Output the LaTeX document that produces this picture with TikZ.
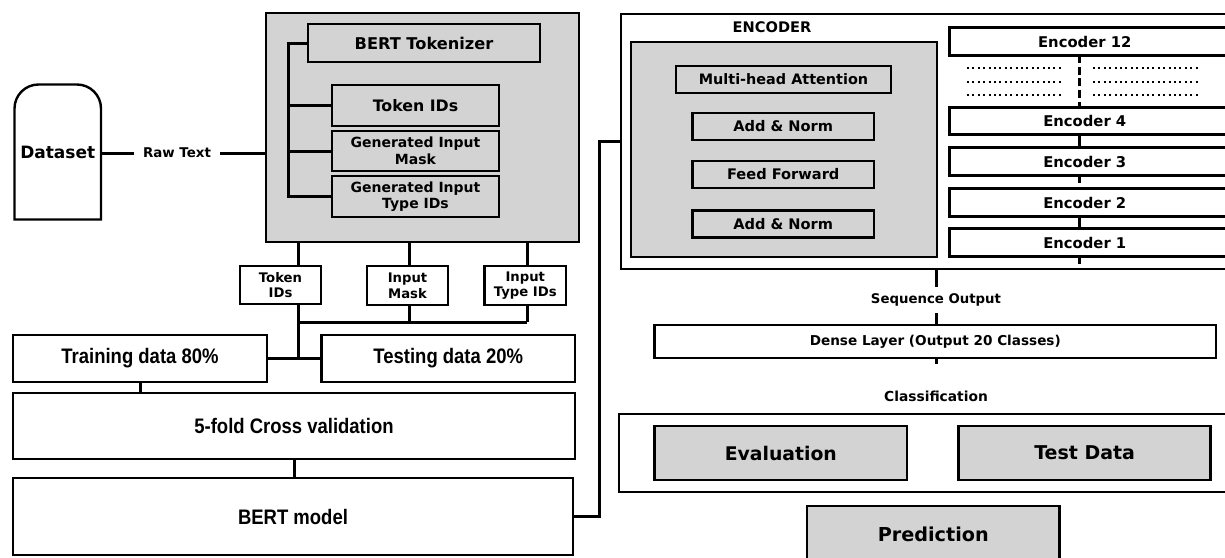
\documentclass[tikz,border=0pt]{standalone}
\usepackage{fontspec}
\setmainfont{DejaVu Sans}
\newfontfamily\narrowfont[FakeStretch=0.88]{Liberation Sans}
\usepackage{tikz}
\usetikzlibrary{positioning,calc}
\definecolor{panel}{RGB}{211,211,211}
\newcommand{\fsz}[2]{\fontsize{#1pt}{#2pt}\selectfont\bfseries}

\begin{document}
\begin{tikzpicture}[x=0.5pt,y=-0.5pt]
\tikzset{
  box/.style={draw,line width=1.3pt,inner sep=0pt,outer sep=0pt,align=center,fill=white},
  gbox/.style={box,fill=panel},
  wire/.style={line width=1.5pt},
  narrow/.style={font={\narrowfont\fsz{10.5}{12}}},
  dotrow/.style={line width=1pt,dash pattern=on 1pt off 1.7pt},
  brk/.style={wire,dash pattern=on 4pt off 1.8pt}
}
\useasboundingbox (0,0) rectangle (1225,557);

% input side
\node[minimum width=43.25pt,minimum height=67.5pt,inner sep=0pt,outer sep=0pt,font=\fsz{8.5}{10}] (dataset) at (57.75,152) {Dataset};
\draw[line width=1.2pt] (dataset.south west) -- ([yshift=-12pt]dataset.north west)
  arc[start angle=180,end angle=90,radius=12pt] -- ([xshift=-12pt]dataset.north east)
  arc[start angle=90,end angle=0,radius=12pt] -- (dataset.south east) -- cycle;

\node[gbox,minimum width=156.5pt,minimum height=114.5pt] (tokbox) at (422.5,127.5) {};
\node[gbox,minimum width=116pt,minimum height=19pt,font=\fsz{8.1}{9.5}] (tokenizer) at (424,43) {BERT Tokenizer};
\node[gbox,minimum width=83.5pt,minimum height=20.5pt,font=\fsz{7.9}{9.5}] (tokid) at (415.5,105.5) {Token IDs};
\node[gbox,minimum width=83.5pt,minimum height=20pt,font=\fsz{7}{8.3}] (mask) at (415.5,151) {Generated Input\\Mask};
\node[gbox,minimum width=83.5pt,minimum height=20.5pt,font=\fsz{7}{8.3}] (typeid) at (415.5,196.5) {Generated Input\\Type IDs};
\node[font=\fsz{6.7}{8},inner xsep=4.5pt,inner ysep=0pt] (raw) at (177,153) {Raw Text};

\node[box,minimum width=40.5pt,minimum height=19pt,font=\fsz{6.6}{7.8}] (stok) at (280.5,285) {Token\\IDs};
\node[box,minimum width=40.5pt,minimum height=19.5pt,font=\fsz{6.6}{7.8}] (smask) at (407.5,285.5) {Input\\Mask};
\node[box,minimum width=40.75pt,minimum height=19.5pt,font=\fsz{6.6}{7.8}] (stype) at (525.25,285.5) {Input\\Type IDs};

\node[box,narrow,minimum width=127pt,minimum height=23.5pt] (train) at (140,358.5) {Training data 80\%};
\node[box,narrow,minimum width=126.75pt,minimum height=23.5pt] (test) at (448.25,358.5) {Testing data 20\%};
\node[box,narrow,minimum width=281pt,minimum height=33pt] (cv) at (294,426) {5-fold Cross validation};
\node[box,narrow,minimum width=280pt,minimum height=38.5pt] (bert) at (293,516.5) {BERT model};

\coordinate (spine) at (288,0);
\coordinate (j1) at (298.5,322);
\coordinate (j2) at (409,322);
\coordinate (j3) at (527,322);
\coordinate (bend) at (599,0);

\draw[wire] (dataset.east |- raw) -- (raw.west);
\draw[wire] (raw.east) -- (raw -| tokbox.west);
\draw[wire] (tokenizer.west) -| (spine |- typeid.west) -- (typeid.west);
\draw[wire] (tokid.west) -- (tokid.west -| spine) (mask.west) -- (mask.west -| spine);
\foreach \b/\j in {stok/j1,smask/j2,stype/j3}
  \draw[wire] (tokbox.south -| \j) -- (\b.north -| \j) (\b.south -| \j) -- (\j);
\draw[wire] (j1) -- (j3);
\draw[wire] (j1) -- (j1 |- train.east);
\draw[wire] (train.east) -- (test.west);
\draw[wire] (train.south) -- (train.south |- cv.north);
\draw[wire] (cv.south) -- (cv.south |- bert.north);

% encoder side
\node[box,minimum width=309.5pt,minimum height=127.5pt] (enc) at (930.5,141.5) {};
\node[font=\fsz{7.3}{9}] (enctitle) at (772,27) {ENCODER};
\node[gbox,minimum width=153pt,minimum height=107.5pt] (layer) at (784,149.5) {};
\node[gbox,minimum width=107.5pt,minimum height=13.5pt,font=\fsz{7.2}{9}] (mha) at (783.5,79.5) {Multi-head Attention};
\node[gbox,minimum width=90.75pt,minimum height=13.5pt,font=\fsz{7.3}{9}] (addnorm1) at (783.25,126.5) {Add \& Norm};
\node[gbox,minimum width=90.75pt,minimum height=13.5pt,font=\fsz{7.3}{9}] (ffwd) at (783.25,174.5) {Feed Forward};
\node[gbox,minimum width=90.75pt,minimum height=13.5pt,font=\fsz{7.3}{9}] (addnorm2) at (783.25,224) {Add \& Norm};

\foreach \n/\y in {12/41.5,4/121,3/161.5,2/202.5,1/242.5}
  \node[box,minimum width=145.25pt,minimum height=13.75pt,font=\fsz{7.4}{9}] (enc\n) at (1094.75,\y) {Encoder \n\hspace*{10pt}};
\foreach \r in {68,82,95} {
  \draw[dotrow] (967,\r) -- (1064,\r);
  \draw[dotrow] (1093,\r) -- (1200,\r);
}
\coordinate (ex) at (1079.5,0);
\draw[brk] (enc12.south -| ex) -- (enc4.north -| ex);
\draw[wire] (enc4.south -| ex) -- (enc3.north -| ex);
\draw[brk] (enc3.south -| ex) -- (enc2.north -| ex);
\draw[wire] (enc2.south -| ex) -- (enc1.north -| ex);
\draw[brk] (enc1.south -| ex) -- (enc.south -| ex);

\draw[wire] (bert.east) -| (bend |- enc.west) -- (enc.west);

\node[font=\fsz{6.65}{8},minimum height=13pt,inner sep=0pt] (seq) at (936,300) {Sequence Output};
\node[box,minimum width=280.7pt,minimum height=16.5pt,font=\fsz{6.8}{8}] (dense) at (935.3,341.5) {Dense Layer (Output 20 Classes)};
\node[font=\fsz{6.9}{8},minimum height=32pt,inner sep=0pt] (cls) at (936,396) {Classification};
\draw[wire] (seq.north |- enc.south) -- (seq.north);
\draw[wire] (seq.south) -- (seq.south |- dense.north);
\draw[wire] (dense.south -| cls) -- (cls.north);

\node[box,minimum width=310.5pt,minimum height=39pt] (results) at (929.5,453) {};
\node[gbox,minimum width=126.2pt,minimum height=27pt,font=\fsz{9.4}{11}] (evaluation) at (780.8,453) {Evaluation};
\node[gbox,minimum width=126pt,minimum height=27pt,font=\fsz{9.5}{11}] (testdata) at (1084.65,453) {Test Data};
\node[gbox,minimum width=126.25pt,minimum height=28pt,font=\fsz{9.6}{11}] (prediction) at (933.25,534) {Prediction};
\end{tikzpicture}
\end{document}
